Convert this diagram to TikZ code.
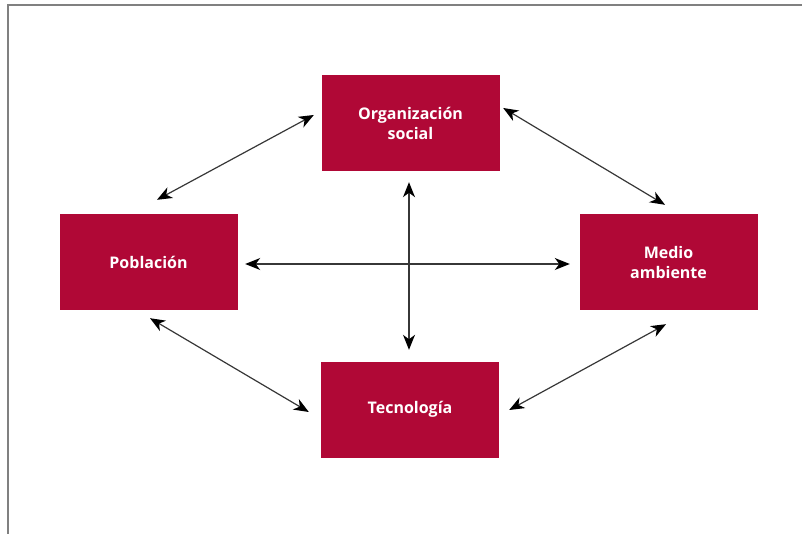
\documentclass[tikz,border=0pt]{standalone}
\usepackage{fontspec}
\setsansfont{Open Sans}
\usetikzlibrary{arrows.meta}
\definecolor{crimson}{RGB}{176,8,54}
\definecolor{arrowgray}{RGB}{55,55,55}
\tikzset{
  factor/.style={fill=crimson,minimum width=178,minimum height=96,inner sep=0pt,
    text=white,align=center,font=\sffamily\bfseries\fontsize{16}{20}\selectfont},
  linktip/.tip={Stealth[length=15pt,width=12pt,inset=4.5pt,color=black]},
  link/.style={draw=arrowgray,line width=1.2pt,linktip-linktip},
  frame/.style={draw=gray,line width=1.6pt}
}
\begin{document}
\begin{tikzpicture}[x=1pt,y=1pt]
  \useasboundingbox (0,0) rectangle (802,533);
  \draw[frame] (8,-10) |- (820,528);
  % the four factors
  \node[factor] (org) at (410.5,410) {Organización\\social};
  \node[factor] (pob) at (148.5,270.5) {Población};
  \node[factor] (med) at (668.5,270.5) {Medio\\ambiente};
  \node[factor] (tec) at (410,123.5) {Tecnología};
  % relations
  \draw[link] ([xshift=8.5,yshift=14.5]pob.north) -- ([xshift=-7.5,yshift=8]org.west);
  \draw[link] ([xshift=3.5,yshift=15]org.east) -- ([xshift=-3.5,yshift=9.5]med.north);
  \draw[link] ([xshift=-2.5,yshift=-13.5]med.south) -- ([xshift=10,yshift=-0.5]tec.east);
  \draw[link] ([xshift=1.5,yshift=-7.5]pob.south) -- ([xshift=-12,yshift=-2.5]tec.west);
  \draw[link] ([xshift=7.5,yshift=-1.5]pob.east) -- ([xshift=-9.5,yshift=-1.5]med.west);
  \draw[link] ([xshift=-1.5,yshift=-11]org.south) -- ([xshift=-1,yshift=11.5]tec.north);
\end{tikzpicture}
\end{document}
